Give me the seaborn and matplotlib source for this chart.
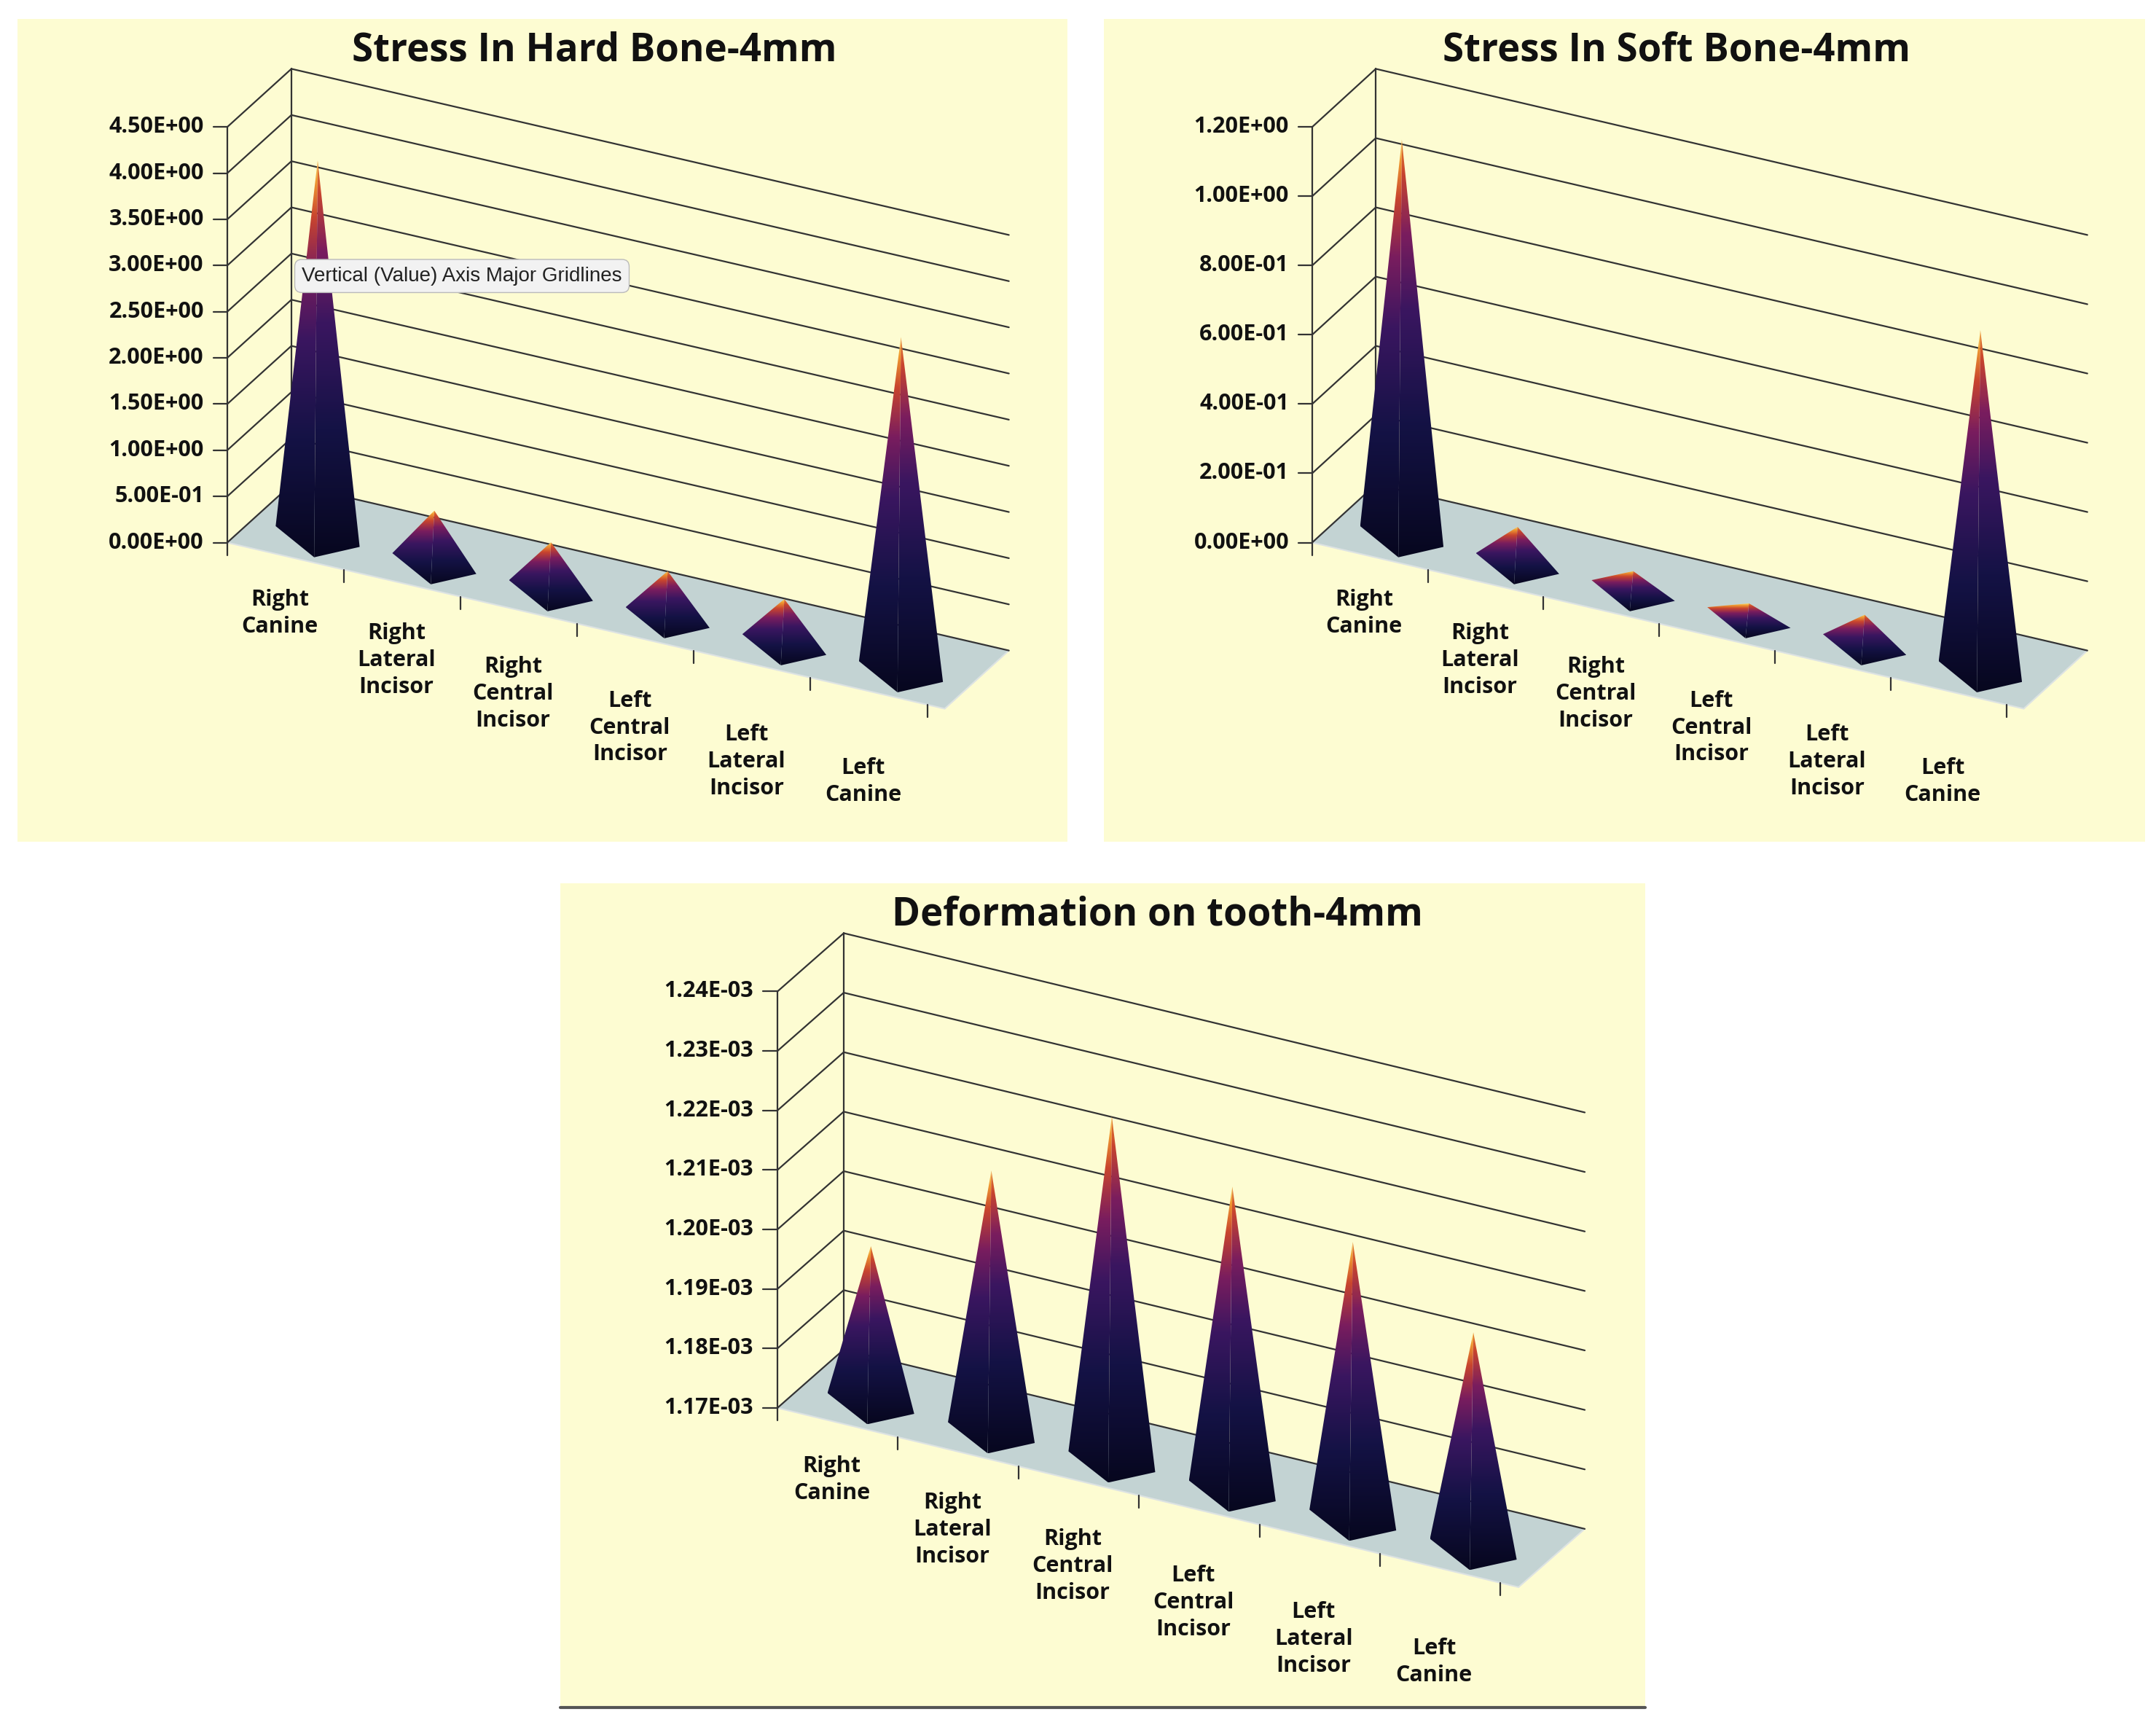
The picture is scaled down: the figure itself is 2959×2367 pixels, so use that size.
import numpy as np
import seaborn as sns
import matplotlib.pyplot as plt
from matplotlib.colors import LinearSegmentedColormap
from matplotlib.patches import Polygon

categories = ["Right\nCanine", "Right\nLateral\nIncisor", "Right\nCentral\nIncisor",
              "Left\nCentral\nIncisor", "Left\nLateral\nIncisor", "Left\nCanine"]

hard_bone = [4.05, 0.55, 0.50, 0.48, 0.47, 3.6]
hard_ticks = [0, 0.5, 1.0, 1.5, 2.0, 2.5, 3.0, 3.5, 4.0, 4.5]
hard_labels = ["0.00E+00", "5.00E-01", "1.00E+00", "1.50E+00", "2.00E+00",
               "2.50E+00", "3.00E+00", "3.50E+00", "4.00E+00", "4.50E+00"]

soft_bone = [1.14, 0.10, 0.05, 0.035, 0.08, 0.98]
soft_ticks = [0, 0.2, 0.4, 0.6, 0.8, 1.0, 1.2]
soft_labels = ["0.00E+00", "2.00E-01", "4.00E-01", "6.00E-01", "8.00E-01",
               "1.00E+00", "1.20E+00"]

deform = [1.1961e-3, 1.2137e-3, 1.2277e-3, 1.2208e-3, 1.2164e-3, 1.2061e-3]
deform_ticks = [1.17e-3, 1.18e-3, 1.19e-3, 1.20e-3, 1.21e-3, 1.22e-3, 1.23e-3, 1.24e-3]
deform_labels = ["1.17E-03", "1.18E-03", "1.19E-03", "1.20E-03", "1.21E-03",
                 "1.22E-03", "1.23E-03", "1.24E-03"]

sns.set_theme(style="white")
plt.rcParams['font.family'] = ['Open Sans', 'DejaVu Sans']

cmap = LinearSegmentedColormap.from_list(
    "pyr", [(0, "#07071f"), (0.3, "#141245"), (0.55, "#3a1660"), (0.72, "#7a1d5e"),
            (0.86, "#c9452e"), (0.95, "#f09a30"), (1, "#f8d870")])
BG = "#fdfcd2"
grad = np.linspace(0, 1, 256).reshape(-1, 1)


def face(ax, pts, shade):
    poly = Polygon(pts, closed=True, facecolor="none", edgecolor="none")
    ax.add_patch(poly)
    xs = [p[0] for p in pts]
    ys = [p[1] for p in pts]
    im = ax.imshow(grad * shade, cmap=cmap, vmin=0, vmax=1, origin="lower", aspect="auto",
                   extent=(min(xs), max(xs), min(ys), max(ys)), interpolation="bilinear",
                   zorder=4)
    im.set_clip_path(poly)


def chart(rect, title, values, ticks, labels, slope, dx=0.55, dy=0.14):
    ax = fig.add_axes(rect)
    ax.set_facecolor(BG)
    lo, hi = ticks[0], ticks[-1]
    n = len(values)
    xr = n - 0.35

    def base(x):
        return -slope * (x + 0.5)

    y00 = base(-0.5) - 0.06
    # floor
    fl = [(-0.5, y00), (xr, base(xr) - 0.06),
          (xr + dx, base(xr) - 0.06 + dy), (-0.5 + dx, y00 + dy)]
    ax.add_patch(Polygon(fl, closed=True, facecolor="#c3d3d3", edgecolor="#dde3e3",
                         lw=1.5, zorder=1))
    # gridlines: front left axis, diagonal to back, across back wall
    for t in ticks:
        h = (t - lo) / (hi - lo)
        y0 = y00 + h
        ax.plot([-0.5, -0.5 + dx, xr + dx], [y0, y0 + dy, y0 + dy - slope * (xr + 0.5)],
                color="#333333", lw=1.6, zorder=2)
        ax.plot([-0.62, -0.5], [y0, y0], color="#333333", lw=1.6)
    ax.plot([-0.5, -0.5], [y00, y00 + 1], color="#333333", lw=1.6)
    ax.plot([-0.5 + dx, -0.5 + dx], [y00 + dy, y00 + dy + 1], color="#333333", lw=1.6)
    for t, lab in zip(ticks, labels):
        h = (t - lo) / (hi - lo)
        ax.text(-0.7, y00 + h, lab, ha="right", va="center",
                fontsize=22, fontweight="bold", color="#111111")
    # pyramids
    for i, v in enumerate(values):
        h = (v - lo) / (hi - lo)
        cx = i + dx / 2
        cy = base(i + dx / 2) - 0.06 + dy / 2
        w = 0.36
        left = (cx - w, cy + 0.02)
        front = (cx - 0.03, cy - 0.055)
        right = (cx + w, cy - 0.03)
        apex = (cx, cy + max(h, 0.02))
        face(ax, [left, front, apex], 1.0)
        face(ax, [front, right, apex], 0.93)
    # category ticks and labels
    for i in range(n + 1):
        x = i - 0.5
        y = base(x) - 0.06
        ax.plot([x, x], [y, y - 0.03], color="#333333", lw=1.6)
    for i, c in enumerate(categories):
        ax.text(i - 0.05, base(i) * 1.25 - 0.13, c, ha="center", va="top",
                fontsize=22, fontweight="bold", color="#111111", linespacing=1.3)
    ax.text(0.55, 0.985, title, transform=ax.transAxes, ha="center", va="top",
            fontsize=38, fontweight="bold", color="#111111")
    ax.set_xlim(-2.3, n + 0.7)
    ax.set_ylim(-0.78, 1.2)
    ax.set_xticks([])
    ax.set_yticks([])
    for s in ax.spines.values():
        s.set_visible(False)
    return ax


fig = plt.figure(figsize=(29.59, 23.67), dpi=100)
fig.patch.set_facecolor("white")
chart([0.008, 0.512, 0.487, 0.477], "Stress In Hard Bone-4mm", hard_bone, hard_ticks, hard_labels, 0.065)
chart([0.512, 0.512, 0.483, 0.477], "Stress In Soft Bone-4mm", soft_bone, soft_ticks, soft_labels, 0.065)
ax3 = chart([0.26, 0.01, 0.503, 0.478], "Deformation on tooth-4mm", deform, deform_ticks, deform_labels, 0.07)
ax3.plot([-2.3, 6.7], [-0.78, -0.78], color="#555555", lw=3, clip_on=False)

# tooltip captured in the original screenshot
fig.text(0.140, 0.840, "Vertical (Value) Axis Major Gridlines", fontsize=20,
         family=["Liberation Sans", "DejaVu Sans"], color="#222222", va="center", zorder=10,
         bbox=dict(boxstyle="round,pad=0.35", facecolor="#f2f2f2", edgecolor="#bbbbbb"))

fig.savefig("out.png", dpi=100, facecolor=fig.get_facecolor())
